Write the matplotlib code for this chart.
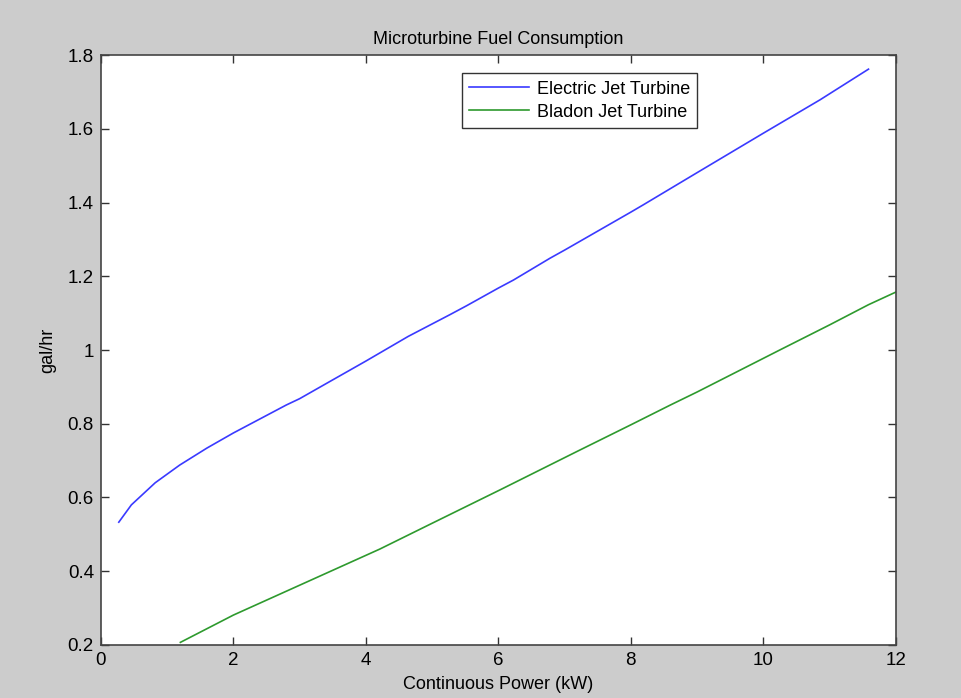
import numpy as np
import matplotlib.pyplot as plt

plt.rcParams['font.family'] = ['Liberation Sans', 'DejaVu Sans']

# fuel burn vs continuous power
power_ejt = [0.27, 0.46, 0.82, 1.19, 1.60, 2.0, 2.80, 3.0, 3.46, 4.0, 4.64, 5.27, 5.52, 6.0,
             6.23, 6.78, 7.01, 8.0, 8.19, 9.0, 10.0, 10.86, 11.59]
fuel_ejt = [0.533, 0.580, 0.640, 0.688, 0.734, 0.775, 0.851, 0.868, 0.915, 0.970, 1.037,
            1.096, 1.120, 1.168, 1.190, 1.249, 1.272, 1.374, 1.394, 1.481, 1.588, 1.679, 1.762]

power_bladon = [1.20, 2.0, 3.0, 4.21, 5.0, 6.03, 7.19, 8.0, 8.60, 9.0, 10.26, 11.0, 11.59, 12.0]
fuel_bladon = [0.207, 0.281, 0.362, 0.460, 0.530, 0.621, 0.725, 0.797, 0.851, 0.886, 1.001,
               1.068, 1.123, 1.157]

fig = plt.figure(figsize=(9.61, 6.98), dpi=100, facecolor='#cccccc')
ax = fig.add_axes([0.105, 0.076, 0.827, 0.845])
ax.set_facecolor('white')

ax.plot(power_ejt, fuel_ejt, color='#3a3aff', linewidth=1.2, label='Electric Jet Turbine')
ax.plot(power_bladon, fuel_bladon, color='#2e9a2e', linewidth=1.2, label='Bladon Jet Turbine')

ax.set_xlim(0, 12)
ax.set_ylim(0.2, 1.8)
ax.set_xticks(np.arange(0, 13, 2))
ax.set_yticks(np.arange(0.2, 1.81, 0.2))
ax.set_yticklabels(['0.2', '0.4', '0.6', '0.8', '1', '1.2', '1.4', '1.6', '1.8'])

ax.tick_params(direction='in', length=6, width=1, labelsize=13.5, color='#333333',
               top=True, right=True, pad=5)
for s in ax.spines.values():
    s.set_color('#444444')
    s.set_linewidth(1.2)

ax.set_title('Microturbine Fuel Consumption', fontsize=13, pad=8)
ax.set_xlabel('Continuous Power (kW)', fontsize=13, labelpad=5)
ax.set_ylabel('gal/hr', fontsize=13, labelpad=8)

leg = ax.legend(loc='upper left', bbox_to_anchor=(0.454, 0.969), borderaxespad=0,
                fontsize=13, fancybox=False, framealpha=1, edgecolor='#333333',
                handlelength=3.3, borderpad=0.4, labelspacing=0.33, handletextpad=0.45)
leg.get_frame().set_linewidth(1.0)

fig.savefig('out.png', dpi=100, facecolor=fig.get_facecolor())
